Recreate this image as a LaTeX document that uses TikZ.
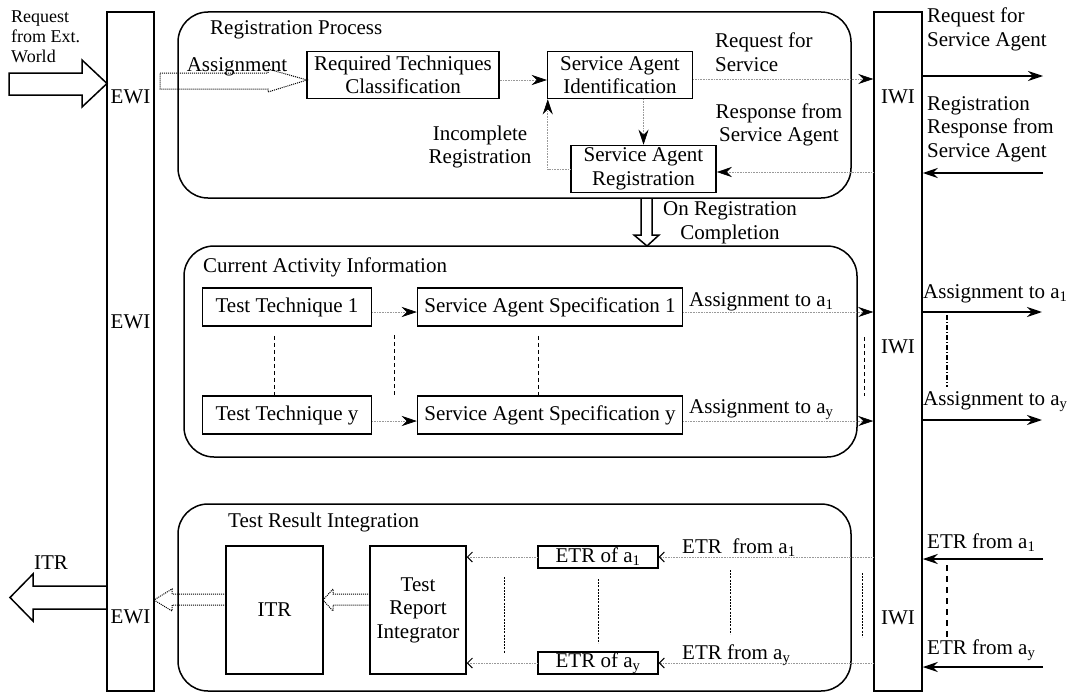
\documentclass[tikz,border=0pt]{standalone}
\usepackage{fontspec}
\setmainfont{Liberation Serif}
\usetikzlibrary{arrows.meta}
\tikzset{
  txt/.style={font=\fontsize{21}{23.5}\selectfont},
  box/.style={txt,draw,line width=1.5pt,inner sep=0pt,align=center},
  bar/.style={draw,line width=1.5pt,inner sep=0pt},
  proc/.style={draw,line width=1.5pt,rounded corners=30pt,inner sep=0pt},
  lbl/.style={txt,inner sep=0pt,align=left,anchor=west},
  clbl/.style={txt,inner sep=0pt,align=center},
  conn/.style={gray!80,line width=0.6pt,densely dotted,-{Stealth[length=15pt,width=10pt,inset=5pt,color=black]}},
  barb/.style={gray!80,line width=0.6pt,densely dotted,-{Straight Barb[length=5pt,width=10pt,color=black,line width=1pt]}},
  solidarr/.style={black,line width=1.6pt,-{Stealth[length=15pt,width=10pt,inset=5pt]}},
  thickarr/.style={black,line width=2.4pt,-{Stealth[length=15pt,width=10pt,inset=5pt]}},
  hollow/.style={black,line width=1.5pt,line join=miter},
  hollowdot/.style={black,line width=1pt,densely dotted},
  vdash/.style={black,line width=1pt,dash pattern=on 4pt off 3pt},
  vfine/.style={black,line width=0.7pt,dash pattern=on 2pt off 1.2pt},
  vdashdot/.style={black,line width=1.2pt,dash pattern=on 5pt off 2pt on 1pt off 2pt},
  vlong/.style={black,line width=1.2pt,dash pattern=on 6pt off 5pt}
}
\begin{document}
\begin{tikzpicture}[x=1pt,y=-1pt]
\useasboundingbox (0,0) rectangle (1070,693);

% interface bars
\node[bar,minimum width=47pt,minimum height=679pt] (ewi) at (130.5,351.5) {};
\node[bar,minimum width=48pt,minimum height=679pt] (iwi) at (898,351.5) {};
\node[clbl] (ewiA) at (130.5,97) {EWI};
\node[clbl] (ewiB) at (130.5,322) {EWI};
\node[clbl] (ewiC) at (130.5,617) {EWI};
\node[clbl] (iwiA) at (898,97) {IWI};
\node[clbl] (iwiB) at (898,347) {IWI};
\node[clbl] (iwiC) at (898,618) {IWI};

% process containers
\node[proc,minimum width=673pt,minimum height=186pt] (reg) at (514.5,105) {};
\node[proc,minimum width=673pt,minimum height=211pt] (cai) at (520.5,351.5) {};
\node[proc,minimum width=673pt,minimum height=187pt] (tri) at (514.5,597.5) {};
\node[lbl] (regT) at (210,30) {Registration Process};
\node[lbl] (caiT) at (203,267) {Current Activity Information};
\node[lbl] (triT) at (228,522) {Test Result Integration};

% registration process
\node[box,minimum width=192pt,minimum height=47pt] (rtc) at (403,75) {Required Techniques\\Classification};
\node[box,minimum width=145pt,minimum height=47pt] (sai) at (620,75) {Service Agent\\Identification};
\node[box,minimum width=145pt,minimum height=47pt] (sar) at (643.5,169) {Service Agent\\Registration};

\draw[conn] ([yshift=-5pt]rtc.east) -- ([yshift=-5pt]sai.west);
\draw[conn] (sar.north |- sai.south) -- (sar.north);
\draw[conn] (sar.west) -| ([xshift=1pt]sai.south west);
\draw[conn] ([yshift=-4pt]sai.east) -- ([yshift=-4pt]sai.east -| iwi.west);
\draw[conn] ([yshift=-3pt]sar.east -| iwi.west) -- ([yshift=-3pt]sar.east);
\node[clbl] (incl) at (480,147) {Incomplete\\Registration};
\node[lbl] (rfs) at (715,52) {Request for\\Service};
\node[clbl] (rsa) at (779,125) {Response from\\Service Agent};

% external request
\node[inner sep=0pt,align=left,anchor=west,font=\fontsize{18}{20}\selectfont] (ext) at (11,37) {Request\\from Ext.\\World};
\draw[hollow] (9,73) -- (82,73) -- (82,60) -- (107,83.5) -- (82,107) -- (82,95) -- (9,95) -- cycle;
\draw[hollowdot] (160,73) -- (268,73) -- (268,69) -- (307,80) -- (268,92) -- (268,89) -- (160,89) -- cycle;
\node[clbl] (asg) at (237,67) {Assignment};

% right side, registration
\coordinate (o1) at (1043,76);
\coordinate (i1) at (1043,173);
\draw[solidarr] (iwi.east |- o1) -- (o1);
\draw[solidarr] (i1) -- (iwi.east |- i1);
\node[lbl] (rfsa) at (927,29.5) {Request for\\Service Agent};
\node[lbl] (rrsa) at (927,129) {Registration\\Response from\\Service Agent};

% on registration completion
\draw[hollow] (641,199) -- (641,235) -- (634,235) -- (647,246) -- (659,235) -- (652,235) -- (652,199);
\node[clbl] (orc) at (730,223) {On Registration\\Completion};

% current activity information
\node[box,minimum width=169pt,minimum height=38pt] (tt1) at (287,307) {Test Technique 1};
\node[box,minimum width=169pt,minimum height=38pt] (tty) at (287,415) {Test Technique y};
\node[box,minimum width=265pt,minimum height=38pt] (sas1) at (550,307) {Service Agent Specification 1};
\node[box,minimum width=265pt,minimum height=38pt] (sasy) at (550,415) {Service Agent Specification y};

\draw[conn] ([yshift=-5pt]tt1.east) -- ([yshift=-5pt]sas1.west);
\draw[conn] ([yshift=-6pt]tty.east) -- ([yshift=-6pt]sasy.west);
\draw[conn] ([yshift=-5pt]sas1.east) -- ([yshift=-5pt]sas1.east -| iwi.west);
\draw[conn] ([yshift=-6pt]sasy.east) -- ([yshift=-6pt]sasy.east -| iwi.west);
\node[lbl] (as1) at (689,302) {Assignment to a\textsubscript{1}};
\node[lbl] (asy) at (689,410) {Assignment to a\textsubscript{y}};

\draw[vdash] ([xshift=-13pt,yshift=-9pt]tt1.south) -- ([xshift=-13pt]tty.north);
\draw[vdash] (394,335) -- (394,396);
\draw[vdash] ([xshift=-12pt,yshift=-9pt]sas1.south) -- ([xshift=-12pt]sasy.north);
\draw[vdash] (864,337) -- (864,396);

\coordinate (o2) at (1042,312);
\coordinate (o3) at (1042,420);
\draw[thickarr] (iwi.east |- o2) -- (o2);
\draw[thickarr] (iwi.east |- o3) -- (o3);
\node[lbl] (oas1) at (923,294) {Assignment to a\textsubscript{1}};
\node[lbl] (oasy) at (923,402) {Assignment to a\textsubscript{y}};
\draw[vdashdot] (947,315) -- (947,387);

% test result integration
\node[box,minimum width=97pt,minimum height=128pt] (itr) at (274.5,610) {ITR};
\node[box,minimum width=96pt,minimum height=128pt] (trint) at (418,610) {Test\\Report\\Integrator};
\node[box,line width=1.3pt,minimum width=120pt,minimum height=22pt] (etr1) at (598,557) {ETR of a\textsubscript{1}};
\node[box,line width=1.3pt,minimum width=120pt,minimum height=22pt] (etry) at (598,663) {ETR of a\textsubscript{y}};

\draw[barb] (etr1.west) -- (etr1.west -| trint.east);
\draw[barb] (etry.west) -- (etry.west -| trint.east);
\draw[barb] (etr1.east -| iwi.west) -- (etr1.east);
\draw[barb] (etry.east -| iwi.west) -- (etry.east);
\node[lbl] (etf1) at (682,548) {ETR\ \ from a\textsubscript{1}};
\node[lbl] (etfy) at (682,655) {ETR from a\textsubscript{y}};

\draw[vfine] (504,577) -- (504,653);
\draw[vfine] (598,579) -- (598,643);
\draw[vfine] (730,570) -- (730,634);
\draw[vfine] (862,573) -- (862,637);

% hollow dotted arrows toward EWI
\draw[hollowdot] (370,594) -- (333,594) -- (333,589) -- (323,600) -- (333,611) -- (333,605) -- (370,605);
\draw[hollowdot] (226,594) -- (172,594) -- (172,589) -- (154,600) -- (172,611) -- (172,605) -- (226,605);

% ITR output
\draw[hollow] (107,586) -- (33,586) -- (33,574) -- (10,597.5) -- (33,621) -- (33,609) -- (107,609);
\node[clbl] (itrout) at (51,563) {ITR};

% right side, results
\coordinate (i2) at (1043,559);
\coordinate (i3) at (1043,667);
\draw[solidarr] (i2) -- (iwi.east |- i2);
\draw[solidarr] (i3) -- (iwi.east |- i3);
\node[lbl] (retr1) at (927,543) {ETR from a\textsubscript{1}};
\node[lbl] (retry) at (927,650) {ETR from a\textsubscript{y}};
\draw[vlong] (947,565) -- (947,637);
\end{tikzpicture}
\end{document}
